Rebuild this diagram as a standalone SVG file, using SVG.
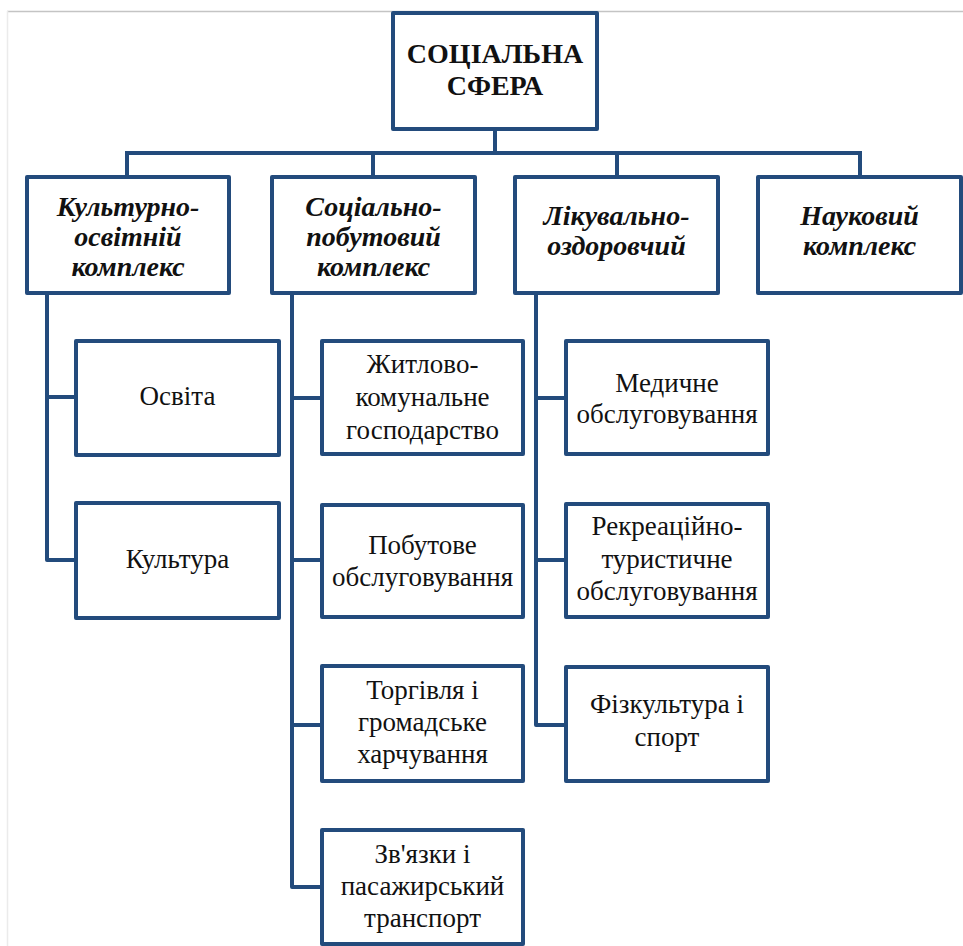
<svg xmlns="http://www.w3.org/2000/svg" width="963" height="946" viewBox="0 0 963 946">
<style>
.box{fill:#fff;stroke:#234B7C;stroke-width:4;stroke-linejoin:round}
.con{fill:none;stroke:#234B7C;stroke-width:4;stroke-linejoin:round;stroke-linecap:square}
.t{font-family:'Liberation Serif','DejaVu Serif',serif;fill:#111;text-anchor:middle}
.title{font-size:28px;font-weight:bold}
.l2{font-size:28px;font-weight:bold;font-style:italic}
.l3{font-size:27px}
</style>
<rect width="963" height="946" fill="#fff"/>
<line x1="7" y1="11.5" x2="963" y2="11.5" stroke="#c4c4c4" stroke-width="1.5"/>
<line x1="7.5" y1="11" x2="7.5" y2="946" stroke="#ebebeb" stroke-width="1.5"/>
<g id="connectors">
<path class="con" d="M495 129V153M127 153H860M127 153V177M373 153V177M617 153V177M860 153V177"/>
<path class="con" d="M47 293V560H76M47 397H76"/>
<path class="con" d="M292 293V887H322M292 398H322M292 560H322M292 725H322"/>
<path class="con" d="M536 293V725H566M536 398H566M536 560H566"/>
</g>
<g id="n-root"><rect class="box" x="393" y="13" width="204" height="116"/>
<text class="t title" x="495" y="63">СОЦІАЛЬНА</text><text class="t title" x="495" y="95">СФЕРА</text></g>
<g id="n-kult"><rect class="box" x="27" y="177" width="202" height="116"/>
<text class="t l2" x="128" y="216">Культурно-</text><text class="t l2" x="128" y="246">освітній</text><text class="t l2" x="128" y="276">комплекс</text></g>
<g id="n-soc"><rect class="box" x="272" y="177" width="203" height="116"/>
<text class="t l2" x="373.5" y="216">Соціально-</text><text class="t l2" x="373.5" y="246">побутовий</text><text class="t l2" x="373.5" y="276">комплекс</text></g>
<g id="n-lik"><rect class="box" x="515" y="177" width="203" height="116"/>
<text class="t l2" x="616.5" y="225">Лікувально-</text><text class="t l2" x="616.5" y="255">оздоровчий</text></g>
<g id="n-nauk"><rect class="box" x="758" y="177" width="203" height="116"/>
<text class="t l2" x="859.5" y="225">Науковий</text><text class="t l2" x="859.5" y="255">комплекс</text></g>
<g id="n-osvita"><rect class="box" x="76" y="341" width="203" height="114"/>
<text class="t l3" x="177.5" y="405">Освіта</text></g>
<g id="n-kultura"><rect class="box" x="76" y="503" width="203" height="115"/>
<text class="t l3" x="177.5" y="568">Культура</text></g>
<g id="n-zhytlo"><rect class="box" x="322" y="341" width="201" height="113"/>
<text class="t l3" x="422.5" y="373">Житлово-</text><text class="t l3" x="422.5" y="406">комунальне</text><text class="t l3" x="422.5" y="439">господарство</text></g>
<g id="n-pobut"><rect class="box" x="322" y="505" width="201" height="112"/>
<text class="t l3" x="422.5" y="554">Побутове</text><text class="t l3" x="422.5" y="586">обслуговування</text></g>
<g id="n-torg"><rect class="box" x="322" y="666" width="201" height="115"/>
<text class="t l3" x="422.5" y="699">Торгівля і</text><text class="t l3" x="422.5" y="731">громадське</text><text class="t l3" x="422.5" y="763">харчування</text></g>
<g id="n-zvyaz"><rect class="box" x="322" y="830" width="201" height="114"/>
<text class="t l3" x="422.5" y="863">Зв'язки і</text><text class="t l3" x="422.5" y="895">пасажирський</text><text class="t l3" x="422.5" y="927">транспорт</text></g>
<g id="n-med"><rect class="box" x="566" y="341" width="202" height="113"/>
<text class="t l3" x="667" y="392">Медичне</text><text class="t l3" x="667" y="423">обслуговування</text></g>
<g id="n-rekr"><rect class="box" x="566" y="504" width="202" height="113"/>
<text class="t l3" x="667" y="535">Рекреаційно-</text><text class="t l3" x="667" y="568">туристичне</text><text class="t l3" x="667" y="600">обслуговування</text></g>
<g id="n-fiz"><rect class="box" x="566" y="667" width="202" height="114"/>
<text class="t l3" x="667" y="713">Фізкультура і</text><text class="t l3" x="667" y="746">спорт</text></g>
</svg>
